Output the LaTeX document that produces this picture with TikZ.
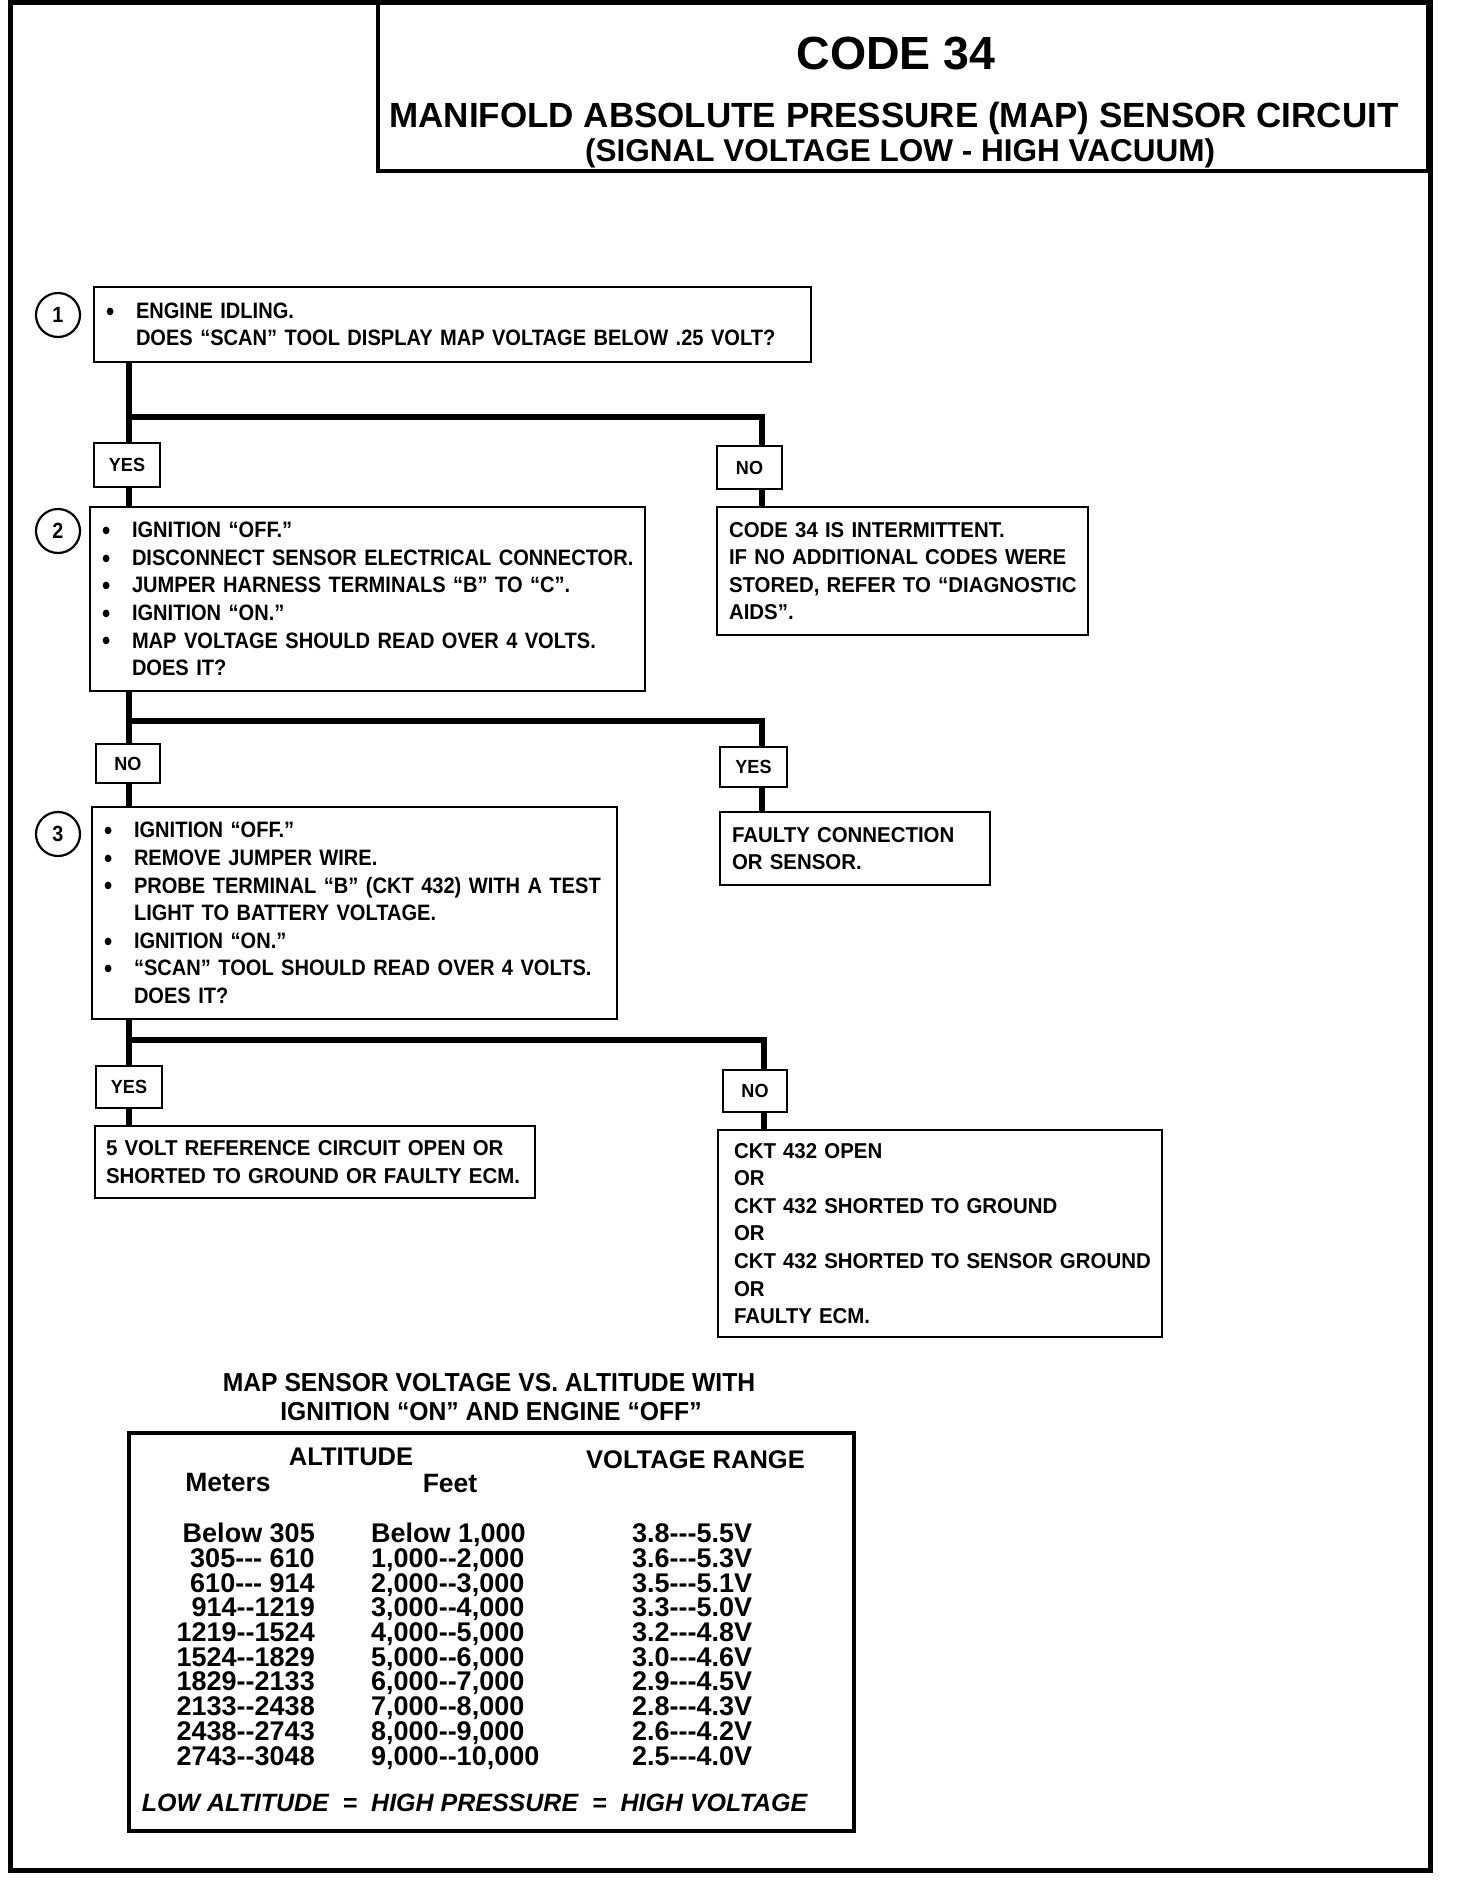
\documentclass[tikz,border=0pt]{standalone}
\usepackage{fontspec}
\setmainfont{Liberation Sans}
\newfontfamily\cf{Liberation Sans}[FakeStretch=0.9]
\newfontfamily\wf{Liberation Sans}[FakeStretch=0.95]
\newcommand\bl{\makebox[30pt][l]{\smash{\raisebox{-1.8pt}{\fontsize{26}{0}\selectfont •}}}}
\newcommand\ind{\hspace*{30pt}}
\begin{document}
\begin{tikzpicture}[x=1pt,y=-1pt,
  conn/.style={line width=6.5pt},
  stepbox/.style={draw, line width=2.7pt, align=left, inner xsep=12pt, inner ysep=0pt, font=\cf\bfseries\fontsize{22.3}{27.6}\selectfont},
  resbox/.style={draw, line width=2.7pt, align=left, inner xsep=12pt, inner ysep=0pt, font=\wf\bfseries\fontsize{21.5}{27.6}\selectfont},
  lbl/.style={draw, line width=2.7pt, fill=white, inner sep=0pt, font=\wf\bfseries\fontsize{19}{20}\selectfont},
  num/.style={circle, draw, line width=2.2pt, minimum size=44pt, inner sep=0pt, font=\cf\bfseries\fontsize{22}{24}\selectfont},
  txt/.style={inner sep=0pt}
]
\useasboundingbox (0,0) rectangle (1456,1884);
\draw[line width=5pt] (10,2.5) rectangle (1430,1870);
% header
\node[draw, line width=3.5pt, minimum width=1050pt, minimum height=168pt, inner sep=0pt] (hdr) at (903,87) {};
\node[txt, font=\bfseries\fontsize{46.5}{50}\selectfont] (t1) at (896,54) {CODE 34};
\node[txt, font=\bfseries\fontsize{35}{38}\selectfont] (t2) at (894,118) {MANIFOLD ABSOLUTE PRESSURE (MAP) SENSOR CIRCUIT};
\node[txt, font=\bfseries\fontsize{31.5}{34}\selectfont] (t3) at (900,153) {(SIGNAL VOLTAGE LOW - HIGH VACUUM)};
% step 1
\node[num] (c1) at (58,315) {1};
\node[stepbox, text width=693pt, minimum height=75pt] (s1) at (452.5,324.5)
  {\mbox{\bl ENGINE IDLING.}\\\mbox{\ind DOES “SCAN” TOOL DISPLAY MAP VOLTAGE BELOW .25 VOLT?}};
\node[lbl, minimum width=66pt, minimum height=44pt] (yes1) at (127,465) {YES};
\node[lbl, minimum width=65pt, minimum height=43pt] (no1) at (749.5,467.5) {NO};
% step 2
\node[num] (c2) at (58,531) {2};
\node[stepbox, text width=531pt, minimum height=184pt] (s2) at (367.5,599)
  {\mbox{\bl IGNITION “OFF.”}\\\mbox{\bl DISCONNECT SENSOR ELECTRICAL CONNECTOR.}\\\mbox{\bl JUMPER HARNESS TERMINALS “B” TO “C”.}\\\mbox{\bl IGNITION “ON.”}\\\mbox{\bl MAP VOLTAGE SHOULD READ OVER 4 VOLTS.}\\\mbox{\ind DOES IT?}};
\node[resbox, text width=347pt, minimum height=128pt] (r1) at (902.5,571)
  {\mbox{CODE 34 IS INTERMITTENT.}\\\mbox{IF NO ADDITIONAL CODES WERE}\\\mbox{STORED, REFER TO “DIAGNOSTIC}\\\mbox{AIDS”.}};
\node[lbl, minimum width=64pt, minimum height=39pt] (no2) at (128,763.5) {NO};
\node[lbl, minimum width=67pt, minimum height=40pt] (yes2) at (753.5,767) {YES};
\node[resbox, text width=246pt, minimum height=73pt] (r2) at (855,848.5)
  {\mbox{FAULTY CONNECTION}\\\mbox{OR SENSOR.}};
% step 3
\node[num] (c3) at (58,834) {3};
\node[stepbox, text width=501pt, minimum height=212pt] (s3) at (354.5,913)
  {\mbox{\bl IGNITION “OFF.”}\\\mbox{\bl REMOVE JUMPER WIRE.}\\\mbox{\bl PROBE TERMINAL “B” (CKT 432) WITH A TEST}\\\mbox{\ind LIGHT TO BATTERY VOLTAGE.}\\\mbox{\bl IGNITION “ON.”}\\\mbox{\bl “SCAN” TOOL SHOULD READ OVER 4 VOLTS.}\\\mbox{\ind DOES IT?}};
\node[lbl, minimum width=66pt, minimum height=42pt] (yes3) at (129,1087) {YES};
\node[lbl, minimum width=64pt, minimum height=42pt] (no3) at (755,1091) {NO};
\node[resbox, text width=418pt, inner xsep=11pt, minimum height=72pt] (r3) at (315,1162)
  {\mbox{5 VOLT REFERENCE CIRCUIT OPEN OR}\\\mbox{SHORTED TO GROUND OR FAULTY ECM.}};
\node[resbox, text width=412pt, inner xsep=16pt, minimum height=207pt] (r4) at (940,1233.5)
  {\mbox{CKT 432 OPEN}\\OR\\\mbox{CKT 432 SHORTED TO GROUND}\\OR\\\mbox{CKT 432 SHORTED TO SENSOR GROUND}\\OR\\\mbox{FAULTY ECM.}};
% connectors
\coordinate (j1) at (129,417); \coordinate (k1) at (762,417);
\coordinate (j2) at (129,721); \coordinate (k2) at (762,721);
\coordinate (j3) at (129,1040); \coordinate (k3) at (764,1040);
\draw[conn] (s1.south -| j1) -- (yes1.north -| j1);
\draw[conn] (j1) -- (k1) -- (no1.north -| k1);
\draw[conn] (yes1.south -| j1) -- (s2.north -| j1);
\draw[conn] (no1.south -| k1) -- (r1.north -| k1);
\draw[conn] (s2.south -| j2) -- (no2.north -| j2);
\draw[conn] (j2) -- (k2) -- (yes2.north -| k2);
\draw[conn] (no2.south -| j2) -- (s3.north -| j2);
\draw[conn] (yes2.south -| k2) -- (r2.north -| k2);
\draw[conn] (s3.south -| j3) -- (yes3.north -| j3);
\draw[conn] (j3) -- (k3) -- (no3.north -| k3);
\draw[conn] (yes3.south -| j3) -- (r3.north -| j3);
\draw[conn] (no3.south -| k3) -- (r4.north -| k3);
% table
\node[txt, font=\wf\bfseries\fontsize{26}{28}\selectfont] (tt1) at (489,1383) {MAP SENSOR VOLTAGE VS. ALTITUDE WITH};
\node[txt, font=\wf\bfseries\fontsize{26}{28}\selectfont] (tt2) at (491,1412) {IGNITION “ON” AND ENGINE “OFF”};
\node[draw, line width=4pt, minimum width=725.5pt, minimum height=398pt, inner sep=0pt] (tbl) at (491.25,1632) {};
\node[txt, font=\bfseries\fontsize{25.5}{28}\selectfont] (alt) at (351,1457) {ALTITUDE};
\node[txt, font=\bfseries\fontsize{25.5}{28}\selectfont] (vr) at (695.5,1460) {VOLTAGE RANGE};
\node[txt, font=\bfseries\fontsize{26.5}{28}\selectfont] (met) at (228,1482) {Meters};
\node[txt, font=\bfseries\fontsize{26.5}{28}\selectfont] (ft) at (450,1483) {Feet};
\foreach \m/\f/\v [count=\i from 0] in {
  {Below 305}/{Below 1,000}/{3.8-{}-{}-5.5V},
  {305-{}-{}- 610}/{1,000-{}-2,000}/{3.6-{}-{}-5.3V},
  {610-{}-{}- 914}/{2,000-{}-3,000}/{3.5-{}-{}-5.1V},
  {914-{}-1219}/{3,000-{}-4,000}/{3.3-{}-{}-5.0V},
  {1219-{}-1524}/{4,000-{}-5,000}/{3.2-{}-{}-4.8V},
  {1524-{}-1829}/{5,000-{}-6,000}/{3.0-{}-{}-4.6V},
  {1829-{}-2133}/{6,000-{}-7,000}/{2.9-{}-{}-4.5V},
  {2133-{}-2438}/{7,000-{}-8,000}/{2.8-{}-{}-4.3V},
  {2438-{}-2743}/{8,000-{}-9,000}/{2.6-{}-{}-4.2V},
  {2743-{}-3048}/{9,000-{}-10,000}/{2.5-{}-{}-4.0V}}{
  \pgfmathsetmacro\yy{1542.7+24.7*\i}
  \node[txt, anchor=base east, font=\bfseries\fontsize{27}{28}\selectfont] (m\i) at (315,\yy) {\m};
  \node[txt, anchor=base west, font=\bfseries\fontsize{27}{28}\selectfont] (f\i) at (371,\yy) {\f};
  \node[txt, anchor=base west, font=\bfseries\fontsize{27}{28}\selectfont] (v\i) at (632,\yy) {\v};
}
\node[txt, font=\bfseries\itshape\fontsize{25}{28}\selectfont] (law) at (474.5,1803) {LOW ALTITUDE ~=~ HIGH PRESSURE ~=~ HIGH VOLTAGE};
\end{tikzpicture}
\end{document}
